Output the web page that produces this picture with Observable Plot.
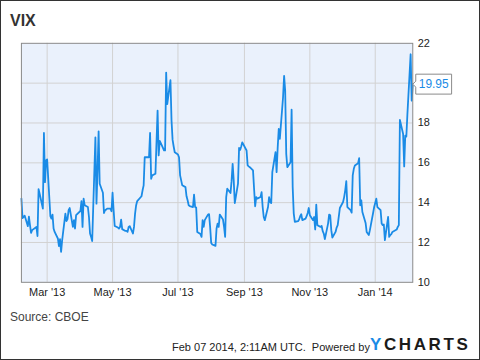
<!DOCTYPE html>
<html>
<head>
<meta charset="utf-8">
<script src="https://cdn.jsdelivr.net/npm/d3@7"></script>
<script src="https://cdn.jsdelivr.net/npm/@observablehq/plot@0.6"></script>
<style>
  html, body { margin: 0; padding: 0; background: #fff; }
  #wrap { position: relative; width: 480px; height: 360px; box-sizing: border-box; border: 1px solid #333; overflow: hidden; font-family: "Liberation Sans", Arial, sans-serif; }
  #chart { position: absolute; left: -1px; top: -1px; }
  .t { position: absolute; white-space: nowrap; }
  #title { left: 9px; top: 11px; font-size: 16px; font-weight: bold; color: #333; }
  #source { left: 9px; top: 309px; font-size: 12px; color: #444; }
  #stamp { left: 171px; top: 340px; font-size: 11px; color: #222; }
  #logo { left: 369px; top: 334px; font-size: 17px; font-weight: 900; letter-spacing: 2.6px; color: #1a1a1a; font-family: "Liberation Sans", Arial, sans-serif; }
  #logo span { color: #1a8be6; }
  .vixtip text, .vixtip tspan { fill: #1a8be6; }
</style>
</head>
<body>
<div id="wrap">
  <div id="chart"></div>
  <div class="t" id="title">VIX</div>
  <div class="t" id="source">Source: CBOE</div>
  <div class="t" id="stamp">Feb 07 2014, 2:11AM UTC.&nbsp; Powered by</div>
  <div class="t" id="logo"><span>Y</span>CHARTS</div>
</div>
<script>
const dates = [
"2013-02-05","2013-02-06","2013-02-07","2013-02-08","2013-02-11","2013-02-12","2013-02-13","2013-02-14","2013-02-15","2013-02-19",
"2013-02-20","2013-02-21","2013-02-22","2013-02-25","2013-02-26","2013-02-27","2013-02-28","2013-03-01","2013-03-04","2013-03-05",
"2013-03-06","2013-03-07","2013-03-08","2013-03-11","2013-03-12","2013-03-13","2013-03-14","2013-03-15","2013-03-18","2013-03-19",
"2013-03-20","2013-03-21","2013-03-22","2013-03-25","2013-03-26","2013-03-27","2013-03-28","2013-04-01","2013-04-02","2013-04-03",
"2013-04-04","2013-04-05","2013-04-08","2013-04-09","2013-04-10","2013-04-11","2013-04-12","2013-04-15","2013-04-16","2013-04-17",
"2013-04-18","2013-04-19","2013-04-22","2013-04-23","2013-04-24","2013-04-25","2013-04-26","2013-04-29","2013-04-30","2013-05-01",
"2013-05-02","2013-05-03","2013-05-06","2013-05-07","2013-05-08","2013-05-09","2013-05-10","2013-05-13","2013-05-14","2013-05-15",
"2013-05-16","2013-05-17","2013-05-20","2013-05-21","2013-05-22","2013-05-23","2013-05-24","2013-05-28","2013-05-29","2013-05-30",
"2013-05-31","2013-06-03","2013-06-04","2013-06-05","2013-06-06","2013-06-07","2013-06-10","2013-06-12","2013-06-13","2013-06-14",
"2013-06-17","2013-06-18","2013-06-19","2013-06-20","2013-06-21","2013-06-24","2013-06-25","2013-06-26","2013-06-27","2013-06-28",
"2013-07-01","2013-07-02","2013-07-03","2013-07-05","2013-07-08","2013-07-09","2013-07-10","2013-07-11","2013-07-12","2013-07-15",
"2013-07-16","2013-07-17","2013-07-18","2013-07-19","2013-07-22","2013-07-23","2013-07-24","2013-07-25","2013-07-26","2013-07-29",
"2013-07-30","2013-07-31","2013-08-01","2013-08-02","2013-08-05","2013-08-06","2013-08-07","2013-08-08","2013-08-09","2013-08-12",
"2013-08-13","2013-08-14","2013-08-15","2013-08-16","2013-08-19","2013-08-20","2013-08-21","2013-08-22","2013-08-23","2013-08-26",
"2013-08-27","2013-08-28","2013-08-29","2013-08-30","2013-09-03","2013-09-04","2013-09-05","2013-09-06","2013-09-09","2013-09-10",
"2013-09-11","2013-09-12","2013-09-13","2013-09-16","2013-09-17","2013-09-18","2013-09-19","2013-09-20","2013-09-23","2013-09-24",
"2013-09-25","2013-09-26","2013-09-27","2013-09-30","2013-10-01","2013-10-02","2013-10-03","2013-10-04","2013-10-07","2013-10-08",
"2013-10-09","2013-10-10","2013-10-11","2013-10-14","2013-10-15","2013-10-16","2013-10-17","2013-10-18","2013-10-21","2013-10-22",
"2013-10-23","2013-10-24","2013-10-25","2013-10-28","2013-10-29","2013-10-30","2013-10-31","2013-11-01","2013-11-04","2013-11-05",
"2013-11-06","2013-11-07","2013-11-08","2013-11-11","2013-11-12","2013-11-13","2013-11-14","2013-11-15","2013-11-18","2013-11-19",
"2013-11-20","2013-11-21","2013-11-22","2013-11-25","2013-11-26","2013-11-27","2013-11-29","2013-12-02","2013-12-03","2013-12-04",
"2013-12-05","2013-12-06","2013-12-09","2013-12-10","2013-12-11","2013-12-12","2013-12-13","2013-12-16","2013-12-17","2013-12-18",
"2013-12-19","2013-12-20","2013-12-23","2013-12-24","2013-12-26","2013-12-27","2013-12-30","2013-12-31","2014-01-02","2014-01-03",
"2014-01-06","2014-01-07","2014-01-08","2014-01-09","2014-01-10","2014-01-13","2014-01-14","2014-01-15","2014-01-16","2014-01-17",
"2014-01-21","2014-01-22","2014-01-23","2014-01-24","2014-01-27","2014-01-28","2014-01-29","2014-01-30","2014-01-31","2014-02-03",
"2014-02-04","2014-02-05"
];
const vix = [
14.2,13.23,13.28,13.35,12.82,13.3,12.87,12.48,12.62,12.78,
12.32,14.68,14.45,13.7,17.5,15.03,16.12,16.17,13.32,13.2,
13.4,12.7,12.53,12.2,11.82,12.17,11.53,12.12,13.45,13.07,
13.17,13.62,13.73,12.78,13.12,12.7,13.37,13.58,14.08,12.78,
14.2,13.87,13.78,13.28,12.45,12.28,12.07,17.28,13.95,15.62,
17.58,14.95,14.5,13.48,13.62,13.65,13.7,13.7,13.57,14.5,
13.62,12.83,12.75,12.7,12.78,13.15,12.67,12.58,12.58,12.53,
12.78,12.82,12.45,12.78,13.45,13.87,14.08,14.32,14.62,14.87,
16.28,16.28,16.28,17.5,15.2,15.37,15.45,18.62,16.37,17.1,
16.75,16.62,16.62,20.53,18.95,20.15,18.12,17.15,16.82,16.53,
16.42,16.28,15.37,14.87,14.78,14.32,14.12,13.87,13.83,13.78,
14.4,13.78,13.75,12.53,12.42,12.28,13.12,12.78,13.12,13.4,
13.42,12.78,11.98,11.9,11.83,12.7,12.95,12.78,13.4,13.15,
12.78,12.28,14.28,14.7,14.48,15.08,15.95,15.12,13.98,14.95,
16.75,16.65,16.82,17.03,16.62,15.87,15.82,15.78,15.62,14.7,
13.82,14.28,14.2,14.28,14.53,13.78,13.28,13.12,13.78,14.28,
14.03,13.98,15.53,16.53,15.53,16.75,17.7,17.2,19.28,20.37,
19.62,16.45,15.78,16.03,18.67,14.78,13.45,13.03,13.07,13.15,
13.32,13.42,13.12,13.2,13.32,13.48,13.73,13.37,13.12,13.28,
12.65,13.9,12.87,12.78,12.83,12.57,12.45,12.17,12.95,13.4,
13.37,12.62,12.25,12.53,12.75,12.87,13.73,14.03,14.28,14.62,
15.08,13.78,13.62,13.5,15.37,15.7,15.87,15.98,16.23,13.87,
14.12,13.53,12.98,12.53,12.37,12.62,13.48,13.78,14.2,13.78,
13.62,12.95,12.87,12.9,12.12,13.28,12.28,12.37,12.42,12.53,
12.65,12.78,12.87,18.15,17.45,15.82,17.37,17.32,18.45,21.45,
19.12,19.95
];
const xTicks = ["2013-03-01","2013-05-01","2013-07-01","2013-09-01","2013-11-01","2014-01-01"];
const yLabelTicks = [10, 12, 14, 16, 18, 22];
const yGridTicks = [12, 14, 16, 18, 20];
const lastLabel = "19.95";

const parse = d3.utcParse("%Y-%m-%d");
const data = dates.map((d, i) => ({date: parse(d), value: vix[i]}));
const xTickDates = xTicks.map(parse);
const last = data[data.length - 1];

const chart = Plot.plot({
  width: 481,
  height: 361,
  marginLeft: 21,
  marginRight: 67,
  marginTop: 43,
  marginBottom: 78,
  style: {fontFamily: "'Liberation Sans', Arial, sans-serif", fontSize: "11px", color: "#222", background: "transparent", overflow: "visible"},
  x: {type: "utc", domain: [parse("2013-02-05"), parse("2014-02-05")]},
  y: {domain: [10, 22]},
  marks: [
    Plot.frame({fill: "#eaf1fc"}),
    Plot.gridY(yGridTicks, {stroke: "#d2d2d2", strokeOpacity: 1}),
    Plot.gridX(xTickDates, {stroke: "#d2d2d2", strokeOpacity: 1}),
    Plot.axisX(xTickDates, {tickSize: 0, tickPadding: 6, tickFormat: d3.utcFormat("%b '%y"), label: null, fill: "#222"}),
    Plot.axisY(yLabelTicks, {anchor: "right", tickSize: 0, tickPadding: 5, label: null, fill: "#222"}),
    Plot.line(data, {x: "date", y: "value", stroke: "#1a8be6", strokeWidth: 1.8}),
    Plot.frame({stroke: "#8a8a8a"}),
    Plot.tip([last], {x: "date", y: "value", title: () => lastLabel, anchor: "left", pointerSize: 6, textPadding: 3, fontSize: 12, stroke: "#8a8a8a", fill: "white", pathFilter: "none", className: "vixtip"})
  ]
});
document.getElementById("chart").appendChild(chart);
</script>
</body>
</html>
